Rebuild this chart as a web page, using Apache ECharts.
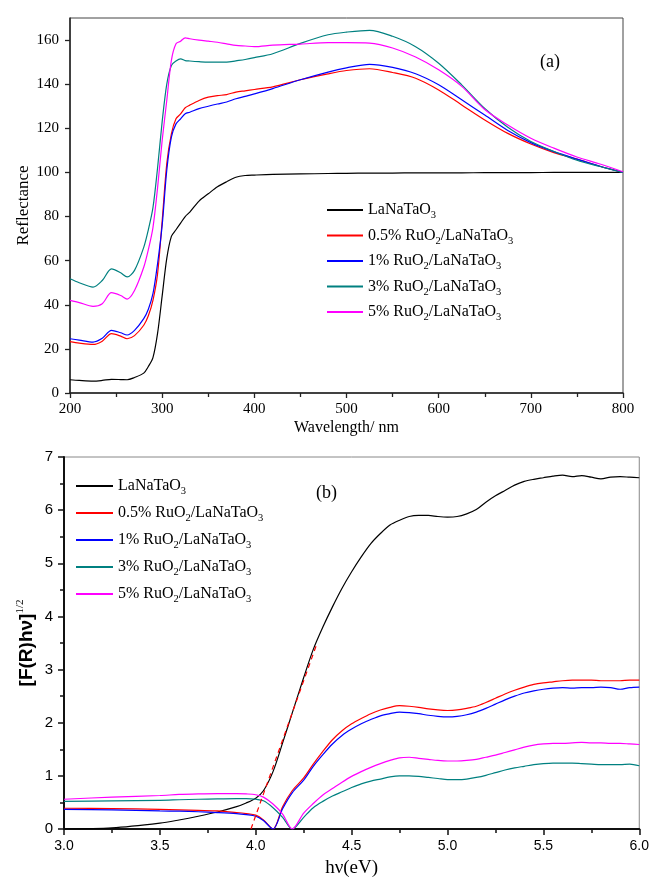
<!DOCTYPE html>
<html><head><meta charset="utf-8">
<script src="https://cdn.jsdelivr.net/npm/echarts@6/dist/echarts.min.js"></script>
<style>html,body{margin:0;padding:0;background:#fff}#c{width:652px;height:881px}</style>
</head><body><div id="c"></div>
<script>
// ---------- Panel (a): reflectance vs wavelength ----------
var wavelength = [200,210,225,235,245,255,262,270,280,285,290,295,300,305,310,315,320,325,330,340,350,360,370,380,390,400,420,450,480,500,525,550,575,600,625,650,675,700,725,750,775,800];
var reflLaNaTaO3 = [6.0,5.7,5.4,5.7,6.2,6.1,6.0,7.0,9.0,12,16,27,44,61,71,74,77,80,82,87,90.3,93.5,95.8,97.8,98.6,98.8,99.1,99.3,99.5,99.6,99.7,99.7,99.8,99.8,99.8,99.9,99.9,99.9,100,100,100,100];
var reflRu05 = [23.3,22.6,22.0,23.5,26.9,25.8,24.6,26.0,30.7,35,42,54,78,104,117.5,124.3,126.5,129.3,130.5,132.6,134.1,134.8,135.3,136.4,137.0,137.6,138.8,142.0,144.7,146.2,147.0,145.3,142.7,137.4,130.6,123.8,117.7,112.9,109.0,106.0,102.8,100.0];
var reflRu1 = [24.6,24.0,23.1,24.8,28.4,27.3,26.3,28.4,33.7,38,45,58.6,76,101,116,122,124.3,126.6,127.3,128.9,130.0,131.0,131.9,133.4,134.5,135.6,138.0,142.0,145.5,147.4,149.0,147.6,144.7,139.7,132.9,126.0,119.0,113.5,109.4,106.0,102.8,100.0];
var reflRu3 = [51.8,50.0,48.0,51.0,56.3,54.5,52.6,55.6,66,74,84,102,123,140,148.5,150.5,151.5,150.7,150.5,150.2,150.0,150.0,150.0,150.6,151.2,152.0,153.8,158.5,162.4,163.6,164.4,161.7,157.0,149.5,139.7,129.0,120.5,114.0,109.5,105.5,102.7,100.0];
var reflRu5 = [42.0,41.0,39.3,40.5,45.5,44.2,42.6,46.5,57,65,75,93,114.5,132.6,150.8,158.3,159.5,161.0,160.6,160.0,159.5,159.0,158.3,157.6,157.3,157.0,157.7,158.2,158.8,158.8,158.6,156.4,152.3,146.5,139.0,128.5,121.5,115.5,111.0,107.0,103.8,100.3];
var reflTicks = [0,20,40,60,80,100,120,140,160];

// ---------- Panel (b): [F(R)hv]^1/2 vs photon energy ----------
var energy = [3.0,3.25,3.5,3.6,3.7,3.8,3.9,3.95,4.0,4.04,4.09,4.14,4.19,4.25,4.3,4.35,4.4,4.45,4.5,4.55,4.6,4.65,4.7,4.75,4.8,4.85,4.9,4.95,5.0,5.05,5.1,5.15,5.2,5.25,5.3,5.35,5.4,5.45,5.5,5.55,5.6,5.65,5.7,5.75,5.8,5.85,5.9,5.95,6.0];
var kmLaNaTaO3 = [0.0,0.02,0.11,0.17,0.24,0.32,0.42,0.49,0.58,0.72,1.08,1.62,2.18,2.85,3.38,3.8,4.18,4.53,4.84,5.12,5.37,5.56,5.72,5.81,5.88,5.9,5.9,5.88,5.87,5.88,5.93,6.01,6.15,6.27,6.37,6.47,6.54,6.58,6.61,6.64,6.66,6.63,6.65,6.62,6.59,6.62,6.63,6.62,6.61];
var kmRu05 = [0.39,0.385,0.37,0.36,0.35,0.34,0.31,0.29,0.26,0.17,0.0,0.42,0.72,0.96,1.22,1.46,1.68,1.85,1.98,2.08,2.17,2.24,2.29,2.32,2.31,2.29,2.26,2.24,2.23,2.24,2.27,2.31,2.38,2.46,2.54,2.61,2.67,2.72,2.75,2.77,2.79,2.8,2.8,2.8,2.79,2.79,2.79,2.8,2.8];
var kmRu1 = [0.37,0.36,0.34,0.335,0.325,0.31,0.29,0.27,0.24,0.16,0.0,0.38,0.68,0.92,1.18,1.4,1.6,1.76,1.88,1.98,2.06,2.13,2.17,2.2,2.19,2.17,2.14,2.12,2.11,2.12,2.15,2.2,2.27,2.35,2.43,2.5,2.56,2.6,2.63,2.65,2.66,2.65,2.66,2.66,2.67,2.66,2.63,2.66,2.67];
var kmRu3 = [0.52,0.53,0.54,0.55,0.56,0.565,0.57,0.57,0.56,0.53,0.4,0.22,0.0,0.22,0.4,0.52,0.62,0.7,0.78,0.85,0.9,0.94,0.98,1.0,1.0,0.99,0.97,0.95,0.93,0.93,0.94,0.97,1.01,1.06,1.11,1.15,1.18,1.21,1.23,1.24,1.24,1.24,1.23,1.22,1.21,1.21,1.21,1.22,1.19];
var kmRu5 = [0.56,0.6,0.63,0.65,0.66,0.665,0.665,0.66,0.645,0.6,0.47,0.28,0.0,0.3,0.48,0.64,0.76,0.88,0.99,1.08,1.16,1.23,1.29,1.34,1.35,1.33,1.31,1.29,1.28,1.28,1.29,1.31,1.35,1.39,1.44,1.49,1.54,1.58,1.6,1.61,1.61,1.62,1.63,1.62,1.62,1.61,1.61,1.6,1.59];
var tangentX = [3.975, 4.32];
var tangentY = [0, 3.5];

var names = ['LaNaTaO3','0.5% RuO2/LaNaTaO3','1% RuO2/LaNaTaO3','3% RuO2/LaNaTaO3','5% RuO2/LaNaTaO3'];
var colors = ['#000000','#ff0000','#0000ff','#008080','#ff00ff'];

function pairs(xs, ys){ return xs.map(function(x,i){ return [x, ys[i]]; }); }
function wrapFmt(n){
  var marked = n.replace(/O2/g,'O{s|2}').replace(/O3$/,'O{s|3}');
  var out = '';
  marked.split(/(\{s\|\d\})/).forEach(function(p){ if(!p) return; if(p.indexOf('{s|')===0) out += p; else out += '{m|'+p+'}'; });
  return out;
}
var serif = 'Liberation Serif';
var sans = 'Liberation Sans';
var legendRich = {
  m: {fontFamily: serif, fontSize: 16, color: '#000', lineHeight: 22, verticalAlign: 'middle'},
  s: {fontFamily: serif, fontSize: 10.5, color: '#000', lineHeight: 9, verticalAlign: 'bottom'}
};

var aData = [reflLaNaTaO3, reflRu05, reflRu1, reflRu3, reflRu5];
var bData = [kmLaNaTaO3, kmRu05, kmRu1, kmRu3, kmRu5];

var series = [];
aData.forEach(function(d,i){
  series.push({type:'line', name:names[i], xAxisIndex:0, yAxisIndex:0, data:pairs(wavelength,d),
    showSymbol:false, smooth:0.3, color:colors[i], lineStyle:{width:1.2, color:colors[i]}, z: 3});
});
bData.forEach(function(d,i){
  series.push({type:'line', name:names[i], xAxisIndex:1, yAxisIndex:1, data:pairs(energy,d),
    showSymbol:false, smooth:0.3, color:colors[i], lineStyle:{width:1.2, color:colors[i]}, z: 3});
});
series.push({type:'line', name:'tangent', xAxisIndex:1, yAxisIndex:1, data:pairs(tangentX,tangentY),
  showSymbol:false, color:'#ff0000', lineStyle:{width:1.2, color:'#ff0000', type:[5,4]}, z: 4});

var chart = echarts.init(document.getElementById('c'), null, {renderer:'canvas'});
chart.setOption({
  animation:false,
  backgroundColor:'#fff',
  grid:[
    {left:70, top:18, width:553, height:375, show:true, borderColor:'#444', borderWidth:1, backgroundColor:'transparent'},
    {left:64, top:457, width:578, height:372, show:true, borderColor:'#888', borderWidth:1, backgroundColor:'transparent'}
  ],
  xAxis:[
    {type:'value', gridIndex:0, min:200, max:800, interval:100,
     name:'Wavelength/ nm', nameLocation:'middle', nameGap:27, nameMoveOverlap:false,
     nameTextStyle:{fontFamily:serif, fontSize:16, color:'#000'},
     axisLine:{show:true, onZero:false, lineStyle:{color:'#222', width:1.5}},
     axisTick:{show:true, inside:false, length:5, lineStyle:{color:'#222', width:1.3}},
     minorTick:{show:true, splitNumber:2, length:4, lineStyle:{color:'#222', width:1.3}},
     splitLine:{show:false},
     axisLabel:{fontFamily:serif, fontSize:15, color:'#000', margin:9}},
    {type:'value', gridIndex:1, min:3, max:6, interval:0.5,
     name:'hν(eV)', nameLocation:'middle', nameGap:30, nameMoveOverlap:false,
     nameTextStyle:{fontFamily:serif, fontSize:19, color:'#000'},
     axisLine:{show:true, onZero:false, lineStyle:{color:'#111', width:2}},
     axisTick:{show:true, inside:false, length:6, lineStyle:{color:'#111', width:1.5}},
     minorTick:{show:true, splitNumber:2, length:4, lineStyle:{color:'#111', width:1.5}},
     splitLine:{show:false},
     axisLabel:{fontFamily:sans, fontSize:14, color:'#000', margin:10, formatter:function(v){return v.toFixed(1);}}}
  ],
  yAxis:[
    {type:'value', gridIndex:0, min:0, max:170, interval:20,
     name:'Reflectance', nameLocation:'middle', nameGap:38, nameMoveOverlap:false,
     nameTextStyle:{fontFamily:serif, fontSize:17, color:'#000'},
     axisLine:{show:true, onZero:false, lineStyle:{color:'#222', width:1.5}},
     axisTick:{show:true, inside:false, length:5, customValues:reflTicks, lineStyle:{color:'#222', width:1.3}},
     splitLine:{show:false},
     axisLabel:{fontFamily:serif, fontSize:15, color:'#000', margin:11, customValues:reflTicks}},
    {type:'value', gridIndex:1, min:0, max:7, interval:1,
     name:'{a|[F(R)hν]}{p|1/2}', nameLocation:'middle', nameGap:25, nameMoveOverlap:false,
     nameTextStyle:{fontFamily:sans, fontSize:19, color:'#000',
       rich:{a:{fontFamily:sans, fontSize:19, fontWeight:'bold', color:'#000', lineHeight:24, verticalAlign:'middle'},
             p:{fontFamily:serif, fontSize:11, color:'#000', lineHeight:10, verticalAlign:'top'}}},
     axisLine:{show:true, onZero:false, lineStyle:{color:'#111', width:2}},
     axisTick:{show:true, inside:false, length:6, lineStyle:{color:'#111', width:1.5}},
     minorTick:{show:true, splitNumber:2, length:4, lineStyle:{color:'#111', width:1.5}},
     splitLine:{show:false},
     axisLabel:{fontFamily:sans, fontSize:15, color:'#000', margin:11}}
  ],
  legend:[
    {orient:'vertical', left:322, top:197, itemWidth:36, itemHeight:2, itemGap:6.5, icon:'rect',
     data:names, selectedMode:false, formatter:wrapFmt,
     textStyle:{fontFamily:serif, fontSize:16, color:'#000', rich:legendRich}},
    {orient:'vertical', left:71, top:473, itemWidth:37, itemHeight:2, itemGap:8, icon:'rect',
     data:names, selectedMode:false, formatter:wrapFmt,
     textStyle:{fontFamily:serif, fontSize:16, color:'#000', rich:legendRich}}
  ],
  graphic:[
    {type:'text', left:540, top:53, style:{text:'(a)', font:'18px "Liberation Serif"', fill:'#000'}},
    {type:'text', left:316, top:484, style:{text:'(b)', font:'18px "Liberation Serif"', fill:'#000'}}
  ],
  series:series
});
</script>
</body></html>
